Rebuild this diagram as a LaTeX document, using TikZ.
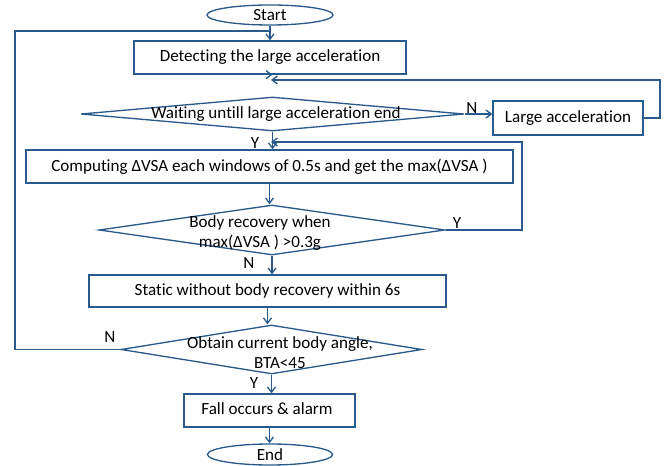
\documentclass[tikz,border=0pt]{standalone}
\usepackage{fontspec}
\setmainfont[Ligatures=NoCommon]{Carlito}
\usetikzlibrary{shapes.geometric,arrows.meta}
\definecolor{lc}{HTML}{2A5A8C}
\begin{document}
\begin{tikzpicture}[x=0.75pt,y=-0.75pt,
  font=\fontsize{12.8}{15}\selectfont,
  line width=1pt,
  boxnode/.style={draw=lc,rectangle,inner sep=0pt},
  termnode/.style={draw=lc,ellipse,inner sep=0pt},
  decnode/.style={draw=lc,diamond,inner sep=0pt,aspect=1},
  txt/.style={inner sep=0pt,align=center},
  lbl/.style={inner sep=0pt},
  conn/.style={draw=lc,-{Straight Barb[length=4pt,width=6pt]}},
  lin/.style={draw=lc}]
\useasboundingbox (0,0) rectangle (664,466);
\node[termnode,minimum width=94.5pt,minimum height=15pt] (start) at (270,15) {Start};
\node[boxnode,minimum width=204pt,minimum height=24.75pt] (detect) at (270,57.5) {Detecting the large acceleration};
\node[decnode,minimum width=287.25pt,minimum height=25.5pt] (d1) at (272.5,114) {};
\node[txt] (d1t) at (276,114) {Waiting untill large acceleration end};
\node[boxnode,minimum width=112.5pt,minimum height=25.5pt] (la) at (568,118) {Large acceleration};
\node[boxnode,minimum width=365.25pt,minimum height=24.75pt] (comp) at (269.5,166.5) {Computing ΔVSA each windows of 0.5s and get the max(ΔVSA )};
\node[decnode,minimum width=259.5pt,minimum height=37.5pt] (d2) at (272,230) {};
\node[txt] (d2t) at (260,233) {Body recovery when\\[0pt]max(ΔVSA ) >0.3g};
\node[boxnode,minimum width=267.75pt,minimum height=24pt] (static) at (267.5,291) {Static without body recovery within 6s};
\node[decnode,minimum width=225.75pt,minimum height=36.75pt] (d3) at (271.5,349.5) {};
\node[txt] (d3t) at (280,353) {Obtain current body angle,\\[0pt]BTA<45};
\node[boxnode,minimum width=128.25pt,minimum height=24.75pt] (fall) at (269.5,410.5) {};
\node[txt] (fallt) at (267,409) {Fall occurs \& alarm};
\node[termnode,minimum width=93.75pt,minimum height=15.75pt] (end) at (270,454.5) {End};

\coordinate (j1) at (270,31);
\coordinate (lc1) at (15,31);
\coordinate (j2) at (271,80);
\coordinate (rc2) at (660,80);
\coordinate (j3) at (271,142);
\coordinate (rc3) at (522,142);

\draw[conn] (start.south) -- (start.south |- detect.north);
\draw[lin] (d3.west) -| (lc1) -- (j1);
\draw[conn] (detect.south) -- (detect.south -| d1.north) ;
\draw[conn] (d1.east) -- (la.west |- d1.east);
\draw[conn] (la.east) -| (rc2) -- (j2);
\draw[conn] (d1.south) -- (d1.south |- comp.north);
\draw[conn] (d2.east) -| (rc3) -- (j3);
\draw[conn] (comp.south) -- (comp.south |- d2.north);
\draw[conn] (d2.south) -- (d2.south |- static.north);
\draw[conn] (static.south) -- (static.south |- d3.north);
\draw[conn] (d3.south) -- (d3.south |- fall.north);
\draw[conn] (fall.south) -- (fall.south |- end.north);

\node[lbl] (n1) at (472,108) {N};
\node[lbl] (y1) at (255,143) {Y};
\node[lbl] (y2) at (457,223) {Y};
\node[lbl] (n2) at (249,263) {N};
\node[lbl] (n3) at (110,337) {N};
\node[lbl] (y3) at (254,383) {Y};
\end{tikzpicture}
\end{document}
